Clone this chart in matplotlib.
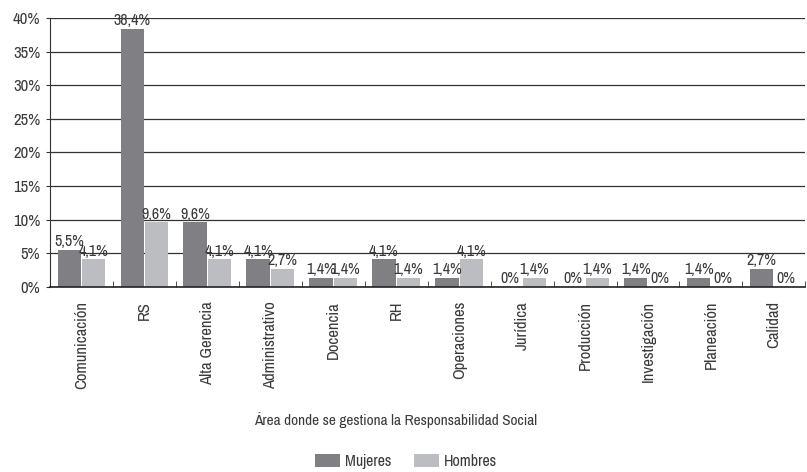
import numpy as np
import matplotlib.pyplot as plt
from matplotlib import font_manager
from matplotlib.ticker import FixedLocator

# condensed face, close to the original's narrow sans
installed = {f.name for f in font_manager.fontManager.ttflist}
narrow = sorted(n for n in installed if 'Narrow' in n or 'Condensed' in n)
plt.rcParams['font.family'] = narrow[:1] + ['DejaVu Sans']

areas = ['Comunicación', 'RS', 'Alta Gerencia', 'Administrativo', 'Docencia', 'RH',
         'Operaciones', 'Jurídica', 'Producción', 'Investigación', 'Planeación', 'Calidad']
mujeres = [5.5, 38.4, 9.6, 4.1, 1.4, 4.1, 1.4, 0, 0, 1.4, 1.4, 2.7]
hombres = [4.1, 9.6, 4.1, 2.7, 1.4, 1.4, 4.1, 1.4, 1.4, 0, 0, 0]
yticks = [0, 5, 10, 15, 20, 25, 30, 35, 40]

TXT = '#3a3a3a'


def fmt(v):
    return '0%' if v == 0 else f'{v:.1f}%'.replace('.', ',')


fig = plt.figure(figsize=(8.07, 4.72), dpi=100)
ax = fig.add_axes([0.062, 0.392, 0.936, 0.57])

x = np.arange(len(areas))
w = 0.37
b1 = ax.bar(x - w / 2 - 0.01, mujeres, w, color='#808084', label='Mujeres')
b2 = ax.bar(x + w / 2 + 0.01, hombres, w, color='#bcbdc0', label='Hombres')

for bars, vals in ((b1, mujeres), (b2, hombres)):
    for r, v in zip(bars, vals):
        ax.text(r.get_x() + r.get_width() / 2, v + 0.1, fmt(v), ha='center', va='bottom',
                fontsize=11.5, color=TXT)

ax.set_xlim(-0.5, len(areas) - 0.5)
ax.set_ylim(0, 40)
ax.set_yticks(yticks)
ax.set_yticklabels([f'{t}%' for t in yticks], fontsize=12, color=TXT)
ax.yaxis.grid(True, color='#333333', linewidth=0.9)
ax.set_axisbelow(True)
ax.tick_params(axis='y', length=3, color='#333333', pad=4)

ax.set_xticks(x)
ax.set_xticklabels(areas, rotation=90, fontsize=12, color=TXT)
ax.tick_params(axis='x', which='major', length=0, pad=10)
ax.xaxis.set_minor_locator(FixedLocator(np.arange(-0.5, len(areas), 1.0)))
ax.tick_params(axis='x', which='minor', direction='in', length=4, color='#333333')

for s in ('top', 'right'):
    ax.spines[s].set_visible(False)
ax.spines['left'].set_color('#333333')
ax.spines['bottom'].set_color('#222222')
ax.spines['bottom'].set_linewidth(1.2)

fig.text(0.49, 0.110, 'Área donde se gestiona la Responsabilidad Social', ha='center',
         va='center', fontsize=11, color=TXT)
leg = fig.legend(handles=[b1, b2], loc='center', bbox_to_anchor=(0.503, 0.022), ncol=2,
                 frameon=False, fontsize=11.5, handlelength=1.6, handleheight=0.8,
                 handletextpad=0.3, columnspacing=1.4)
for t in leg.get_texts():
    t.set_color(TXT)

fig.savefig('out.png', dpi=100)
